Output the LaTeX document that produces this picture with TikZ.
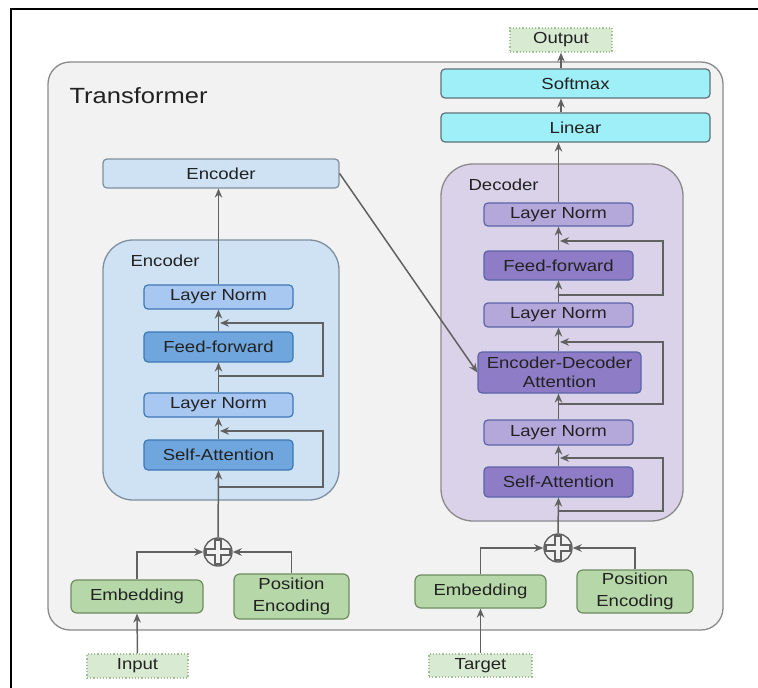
\documentclass[tikz,border=0pt]{standalone}
\usepackage{fontspec}
\setmainfont[FakeStretch=1.16]{Liberation Sans}
\usetikzlibrary{arrows.meta,calc}

\definecolor{outerfill}{HTML}{F2F2F2}
\definecolor{outerdraw}{HTML}{8A8A8A}
\definecolor{encblock}{HTML}{CFE2F3}
\definecolor{encdraw}{HTML}{7E8FA0}
\definecolor{enclight}{HTML}{A9C8F1}
\definecolor{encdark}{HTML}{6FA6DE}
\definecolor{encedge}{HTML}{3E77B5}
\definecolor{decblock}{HTML}{D9D2E9}
\definecolor{declight}{HTML}{B4A7D9}
\definecolor{decdark}{HTML}{8E7CC6}
\definecolor{decedge}{HTML}{5A64A8}
\definecolor{headfill}{HTML}{9EEFF7}
\definecolor{headdraw}{HTML}{5E7278}
\definecolor{embfill}{HTML}{B6D7A8}
\definecolor{embdraw}{HTML}{6E8C60}
\definecolor{iofill}{HTML}{D9EAD3}
\definecolor{iodraw}{HTML}{A3BD96}
\definecolor{wire}{HTML}{616161}
\definecolor{txt}{HTML}{222222}

\tikzset{
  box/.style={draw, rounded corners=4pt, line width=1.2pt, inner sep=0pt,
    align=center, text=txt, font=\fontsize{16}{20}\selectfont},
  enclight box/.style={box, fill=enclight, draw=encedge},
  encdark box/.style={box, fill=encdark, draw=encedge},
  declight box/.style={box, fill=declight, draw=decedge},
  decdark box/.style={box, fill=decdark, draw=decedge},
  head box/.style={box, fill=headfill, draw=headdraw},
  emb box/.style={box, fill=embfill, draw=embdraw, rounded corners=6pt},
  io box/.style={draw=iodraw, fill=iofill, dotted, line width=1.2pt, inner sep=0pt,
    text=txt, font=\fontsize{16}{20}\selectfont},
  wireline/.style={draw=wire, line width=1.5pt},
  arr/.style={wireline, -{Stealth[length=9pt,width=7.5pt]}},
  adder/.style={circle, draw=wire, line width=1.4pt, minimum size=28pt, inner sep=0pt},
  blocklabel/.style={text=txt, font=\fontsize{16}{20}\selectfont, anchor=west},
}

\begin{document}
\begin{tikzpicture}[x=1pt, y=-1pt]
\useasboundingbox (0,0) rectangle (758,688);

% page frame
\draw[line width=2.4pt] (11,688) -- (11,9) -- (758,9);

% transformer container
\draw[fill=outerfill, draw=outerdraw, line width=1.3pt, rounded corners=22pt]
  (48,62) rectangle (723,630);
\node[anchor=west, text=txt, font=\fontsize{22}{26}\selectfont] (title) at (66,96) {Transformer};

% encoder stack
\draw[fill=encblock, draw=encdraw, line width=1.3pt, rounded corners=30pt]
  (103,240) rectangle (339,500);
\node[blocklabel] (enclabel) at (127,261) {Encoder};
\node[box, fill=encblock, draw=encdraw, minimum width=236pt, minimum height=29pt] (enctop) at (221,173.5) {Encoder};
\node[enclight box, minimum width=149pt, minimum height=24pt] (encLNb) at (218.5,297) {Layer Norm};
\node[encdark box, minimum width=149pt, minimum height=30pt] (encFF) at (218.5,347) {Feed-forward};
\node[enclight box, minimum width=149pt, minimum height=24pt] (encLNa) at (218.5,405) {Layer Norm};
\node[encdark box, minimum width=149pt, minimum height=30pt] (encSA) at (218.5,455) {Self-Attention};

% decoder stack
\draw[fill=decblock, draw=outerdraw, line width=1.3pt, rounded corners=32pt]
  (441,164) rectangle (683,521);
\node[blocklabel] (declabel) at (465,185) {Decoder};
\node[declight box, minimum width=149pt, minimum height=23pt] (decLNc) at (558.5,214.5) {Layer Norm};
\node[decdark box, minimum width=149pt, minimum height=29pt] (decFF) at (558.5,265.5) {Feed-forward};
\node[declight box, minimum width=149pt, minimum height=24pt] (decLNb) at (558.5,315) {Layer Norm};
\node[decdark box, minimum width=163pt, minimum height=41pt, font=\fontsize{16}{19.5}\selectfont] (decEDA) at (559.5,372.5) {Encoder-Decoder\\Attention};
\node[declight box, minimum width=149pt, minimum height=25pt] (decLNa) at (558.5,432.5) {Layer Norm};
\node[decdark box, minimum width=149pt, minimum height=30pt] (decSA) at (558.5,482) {Self-Attention};

% output head
\node[head box, minimum width=269pt, minimum height=29pt] (linear) at (575.5,127.5) {Linear};
\node[head box, minimum width=269pt, minimum height=29pt] (softmax) at (575.5,83.5) {Softmax};
\node[io box, minimum width=102pt, minimum height=24pt] (output) at (561,40) {Output};

% embeddings
\node[emb box, minimum width=132pt, minimum height=33pt] (embL) at (137,596.5) {Embedding};
\node[emb box, minimum width=115pt, minimum height=45pt, font=\fontsize{16}{21.5}\selectfont] (peL) at (291.5,596.5) {Position\\Encoding};
\node[adder] (encplus) at (218,552) {};
\node[io box, minimum width=101pt, minimum height=24pt] (input) at (137.5,666) {Input};

\node[emb box, minimum width=131pt, minimum height=33pt] (embR) at (480.5,591.5) {Embedding};
\node[emb box, minimum width=116pt, minimum height=43pt, font=\fontsize{16}{21.5}\selectfont] (peR) at (635,591.5) {Position\\Encoding};
\node[adder] (decplus) at (558,548) {};
\node[io box, minimum width=103pt, minimum height=23pt] (target) at (480.5,665.5) {Target};

% plus signs inside the adders
\foreach \c in {encplus, decplus}{
  \draw[wireline, line width=1.2pt] ($(\c)+(-3,-12)$) -- ++(6,0) -- ++(0,9) -- ++(9,0) -- ++(0,6)
    -- ++(-9,0) -- ++(0,9) -- ++(-6,0) -- ++(0,-9) -- ++(-9,0) -- ++(0,-6) -- ++(9,0) -- cycle;
}

% encoder wiring
\draw[arr] (input.north) -- (embL.south);
\draw[arr] (embL.north) |- (encplus.west);
\draw[arr] (peL.north) |- (encplus.east);
\draw[arr] (encplus.north) -- (encSA.south);
\draw[arr] (encSA.north) -- (encLNa.south);
\draw[arr] (encLNa.north) -- (encFF.south);
\draw[arr] (encFF.north) -- (encLNb.south);
\draw[arr] (encLNb.north) -- (encLNb.north |- enctop.south);

\coordinate (eSAin) at (218,487);
\coordinate (eSAout) at (218,431);
\coordinate (eFFin) at (218,376);
\coordinate (eFFout) at (218,323);
\draw[arr] (eSAin) -- ++(105,0) |- ([xshift=2pt]eSAout);
\draw[arr] (eFFin) -- ++(105,0) |- ([xshift=2pt]eFFout);

% decoder wiring
\draw[arr] (target.north) -- (embR.south);
\draw[arr] (embR.north) |- (decplus.west);
\draw[arr] (peR.north) |- (decplus.east);
\draw[arr] (decplus.north) -- (decSA.south);
\draw[arr] (decSA.north) -- (decLNa.south);
\draw[arr] (decLNa.north) -- (decLNa.north |- decEDA.south);
\draw[arr] (decLNb.south |- decEDA.north) -- (decLNb.south);
\draw[arr] (decLNb.north) -- (decFF.south);
\draw[arr] (decFF.north) -- (decLNc.south);
\draw[arr] (decLNc.north) -- (decLNc.north |- linear.south);
\draw[arr] (linear.north -| output.south) -- (softmax.south -| output.south);
\draw[arr] (softmax.north -| output.south) -- (output.south);

\coordinate (dSAin) at (558,511);
\coordinate (dSAout) at (558,458);
\coordinate (dEDAin) at (558,404);
\coordinate (dEDAout) at (558,342);
\coordinate (dFFin) at (558,295);
\coordinate (dFFout) at (558,241);
\draw[arr] (dSAin) -- ++(105,0) |- ([xshift=2pt]dSAout);
\draw[arr] (dEDAin) -- ++(105,0) |- ([xshift=2pt]dEDAout);
\draw[arr] (dFFin) -- ++(105,0) |- ([xshift=2pt]dFFout);

% encoder memory into cross-attention
\draw[arr] (enctop.east) -- (decEDA.west);
\end{tikzpicture}
\end{document}
